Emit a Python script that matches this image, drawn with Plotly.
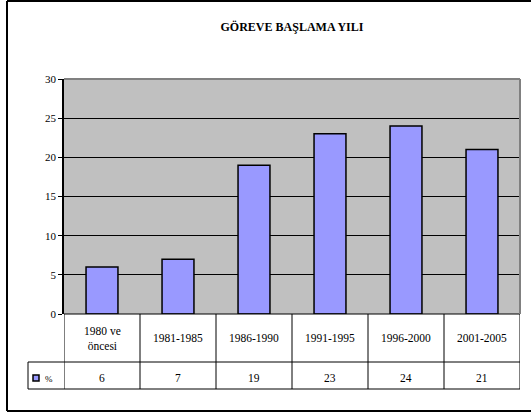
import plotly.graph_objects as go

kategoriler = ["1980 ve<br>öncesi", "1981-1985", "1986-1990", "1991-1995", "1996-2000", "2001-2005"]
yuzde = [6, 7, 19, 23, 24, 21]
seri_adi = "%"
baslik = "GÖREVE BAŞLAMA YILI"

font_aile = "Liberation Serif"
L, R, T, B = 64, 11, 79, 101
W, H = 531, 415
pw, ph = W - L - R, H - T - B


def px_x(p):
    return (p - L) / pw


def px_y(p):
    return (H - B - p) / ph


idx = list(range(len(kategoriler)))

fig = go.Figure()
fig.add_trace(go.Bar(
    x=idx, y=yuzde, name=seri_adi, width=0.42,
    marker=dict(color="#9999FF", line=dict(color="black", width=1.5)),
    showlegend=False, hoverinfo="skip",
))

satir1 = px_y(362)
satir2 = px_y(389)
sol = px_x(28)

shapes = []
# tablo yatay çizgileri
shapes.append(dict(type="line", xref="paper", yref="paper", x0=0, x1=1, y0=0, y1=0,
                   line=dict(color="black", width=1)))
for yy in [satir1, satir2]:
    shapes.append(dict(type="line", xref="paper", yref="paper", x0=sol, x1=1, y0=yy, y1=yy,
                       line=dict(color="black", width=1)))
# tablo dikey çizgileri
shapes.append(dict(type="line", xref="paper", yref="paper", x0=sol, x1=sol, y0=satir1, y1=satir2,
                   line=dict(color="black", width=1)))
for i in range(len(kategoriler) + 1):
    shapes.append(dict(type="line", xref="x", yref="paper", x0=i - 0.5, x1=i - 0.5, y0=0, y1=satir2,
                       line=dict(color="black", width=1)))
# çizim alanı çerçevesi (gri üst ve sağ)
shapes.append(dict(type="line", xref="paper", yref="paper", x0=0, x1=1, y0=1, y1=1,
                   line=dict(color="#808080", width=2)))
shapes.append(dict(type="line", xref="paper", yref="paper", x0=1, x1=1, y0=0, y1=1,
                   line=dict(color="#808080", width=2)))
# lejant kutusu
shapes.append(dict(type="rect", xref="paper", yref="paper", x0=px_x(33), x1=px_x(39),
                   y0=px_y(381), y1=px_y(375), fillcolor="#9999FF",
                   line=dict(color="black", width=1.5)))
# dış çerçeve (sağ kenar görüntü dışında)
cx0, cx1 = px_x(7), px_x(531)
cy0, cy1 = px_y(411), px_y(1)
for x0, x1, y0, y1 in [(cx0, cx1, cy1, cy1), (cx0, cx1, cy0, cy0), (cx0, cx0, cy0, cy1)]:
    shapes.append(dict(type="line", xref="paper", yref="paper", x0=x0, x1=x1, y0=y0, y1=y1,
                       line=dict(color="black", width=2)))

annotations = []
for i, k in enumerate(kategoriler):
    annotations.append(dict(x=i, xref="x", y=(0 + satir1) / 2, yref="paper", text=k,
                            showarrow=False, font=dict(family=font_aile, size=11.5, color="black"),
                            align="center", yanchor="middle"))
    annotations.append(dict(x=i, xref="x", y=(satir1 + satir2) / 2 - 0.01, yref="paper",
                            text=str(yuzde[i]), showarrow=False,
                            font=dict(family=font_aile, size=11.5, color="black"), yanchor="middle"))
annotations.append(dict(x=px_x(43), xref="paper", y=(satir1 + satir2) / 2 - 0.015, yref="paper",
                        text=seri_adi, showarrow=False, xanchor="left",
                        font=dict(family=font_aile, size=9, color="black"), yanchor="middle"))

fig.update_layout(
    width=W, height=H,
    margin=dict(l=L, r=R, t=T, b=B),
    paper_bgcolor="white", plot_bgcolor="#C0C0C0",
    font=dict(family=font_aile, color="black"),
    title=dict(text="<b>" + baslik + "</b>", x=0.5, xref="paper", y=1 - 27 / H, yanchor="middle",
               font=dict(family=font_aile, size=12, color="black")),
    xaxis=dict(range=[-0.5, len(kategoriler) - 0.5], showticklabels=False, showgrid=False,
               zeroline=False, showline=False, ticks=""),
    yaxis=dict(range=[0, 30], dtick=5, ticks="outside", ticklen=4, tickcolor="black",
               showline=True, linecolor="black", linewidth=1.5, gridcolor="black", gridwidth=1,
               zeroline=False, tickfont=dict(family=font_aile, size=11, color="black")),
    shapes=shapes, annotations=annotations, bargap=0.58,
)

fig.write_html("out.html", config={"displayModeBar": False},
               post_script="document.body.style.margin='0';document.body.style.overflow='hidden';")
